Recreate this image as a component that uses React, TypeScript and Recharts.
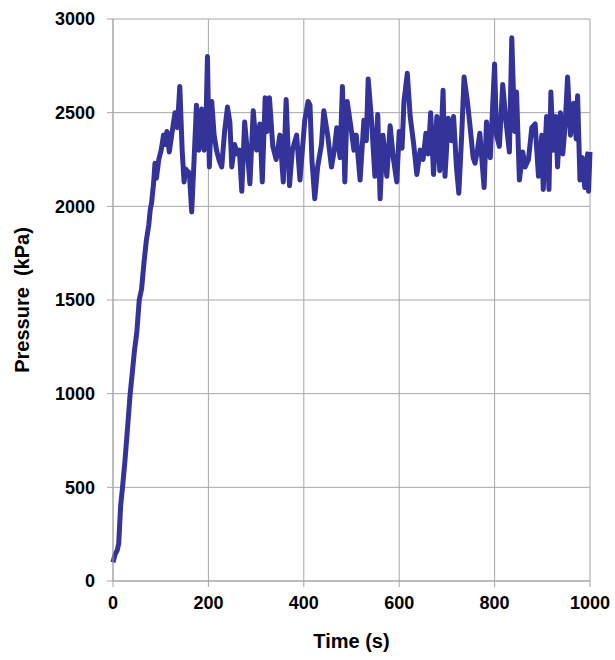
import { LineChart, Line, XAxis, YAxis, CartesianGrid } from "recharts";

// time (s) and pressure (kPa)
const times = [
  0, 4, 9, 12, 16, 20, 25, 30, 36, 40, 45, 50, 55, 60, 65, 70, 75, 78, 81, 85,
  88, 91, 96, 101, 106, 110, 113, 118, 123, 130, 135, 140, 145, 149, 152, 155, 160, 165, 170, 175,
  180, 186, 191, 195, 198, 202, 207, 212, 217, 222, 228, 234, 240, 245, 249, 255, 260, 265, 270, 276,
  283, 287, 294, 301, 308, 313, 319, 323, 328, 335, 342, 350, 357, 363, 370, 376, 385, 392, 402, 409,
  413, 417, 423, 429, 437, 442, 450, 458, 464, 469, 476, 481, 486, 491, 500, 505, 510, 518, 526, 531,
  535, 542, 549, 555, 560, 566, 574, 581, 588, 595, 600, 606, 610, 617, 623, 630, 637, 644, 650, 656,
  661, 666, 672, 679, 685, 692, 696, 703, 710, 714, 720, 725, 731, 736, 743, 748, 755, 759, 764, 769,
  778, 783, 791, 800, 804, 810, 817, 824, 831, 836, 842, 846, 852, 859, 864, 871, 878, 885, 892, 899,
  902, 909, 914, 918, 923, 928, 932, 938, 943, 948, 953, 959, 966, 971, 974, 979, 984, 989, 995, 997,
  1000,
];

const pressures = [
  100, 140, 165, 200, 400, 500, 640, 800, 1000, 1100, 1230, 1330, 1500, 1560, 1700, 1820, 1900, 1980, 2020, 2120,
  2230, 2150, 2250, 2300, 2380, 2330, 2400, 2290, 2380, 2500, 2420, 2640, 2300, 2130, 2200, 2190, 2180, 1970, 2250, 2540,
  2300, 2520, 2300, 2450, 2800, 2210, 2560, 2380, 2300, 2250, 2210, 2400, 2530, 2450, 2210, 2330, 2280, 2300, 2080, 2450,
  2250, 2120, 2510, 2300, 2440, 2130, 2580, 2400, 2580, 2320, 2250, 2380, 2130, 2570, 2110, 2300, 2380, 2140, 2460, 2560,
  2540, 2250, 2040, 2210, 2330, 2510, 2380, 2210, 2300, 2420, 2260, 2640, 2130, 2560, 2400, 2300, 2380, 2140, 2460, 2350,
  2680, 2460, 2160, 2490, 2040, 2380, 2160, 2430, 2250, 2130, 2400, 2310, 2560, 2710, 2480, 2340, 2170, 2300, 2250, 2390,
  2280, 2500, 2170, 2480, 2190, 2620, 2160, 2470, 2350, 2480, 2210, 2070, 2380, 2690, 2560, 2440, 2260, 2230, 2300, 2390,
  2100, 2450, 2260, 2760, 2380, 2320, 2650, 2450, 2290, 2900, 2400, 2610, 2140, 2290, 2210, 2250, 2420, 2440, 2160, 2380,
  2090, 2480, 2090, 2610, 2300, 2480, 2210, 2500, 2280, 2440, 2690, 2380, 2550, 2360, 2590, 2140, 2260, 2100, 2280, 2080,
  2290,
];

const xTicks = [0, 200, 400, 600, 800, 1000];
const yTicks = [0, 500, 1000, 1500, 2000, 2500, 3000];

const data = times.map((t, i) => ({ time: t, pressure: pressures[i] }));

const FONT = '"Liberation Sans", Arial, sans-serif';
const GRID = "#a6a6a6";
const tickStyle = { fontSize: 18, fontWeight: 700, fill: "#000", fontFamily: FONT };

const YTitle = ({ viewBox }: any) => {
  const cx = 22;
  const cy = viewBox.y + viewBox.height / 2;
  return (
    <text
      x={cx}
      y={cy}
      transform={`rotate(-90, ${cx}, ${cy})`}
      textAnchor="middle"
      dominantBaseline="central"
      style={{ whiteSpace: "pre" }}
      fontFamily={FONT}
      fontSize={20}
      fontWeight={700}
      fill="#000"
    >
      {"Pressure  (kPa)"}
    </text>
  );
};

export default function App() {
  return (
    <div
      style={{
        position: "fixed",
        left: 0,
        top: 0,
        width: 615,
        height: 660,
        overflow: "hidden",
        background: "#fff",
      }}
    >
      <LineChart
        width={615}
        height={660}
        data={data}
        margin={{ top: 19, right: 25, left: 8, bottom: 8 }}
      >
        <CartesianGrid stroke={GRID} strokeWidth={1} />
        <XAxis
          dataKey="time"
          type="number"
          domain={[0, 1000]}
          ticks={xTicks}
          height={71}
          stroke={GRID}
          tickSize={6}
          tickMargin={9}
          tick={tickStyle}
          label={{
            value: "Time (s)",
            position: "insideBottom",
            offset: 4,
            style: { fontSize: 20, fontWeight: 700, fill: "#000", fontFamily: FONT },
          }}
        />
        <YAxis
          type="number"
          domain={[0, 3000]}
          ticks={yTicks}
          width={105}
          stroke={GRID}
          tickSize={6}
          tickMargin={12}
          tick={tickStyle}
          label={{ content: <YTitle /> }}
        />
        <Line
          type="linear"
          dataKey="pressure"
          stroke="#333399"
          strokeWidth={5}
          strokeLinejoin="round"
          dot={false}
          isAnimationActive={false}
        />
      </LineChart>
    </div>
  );
}
